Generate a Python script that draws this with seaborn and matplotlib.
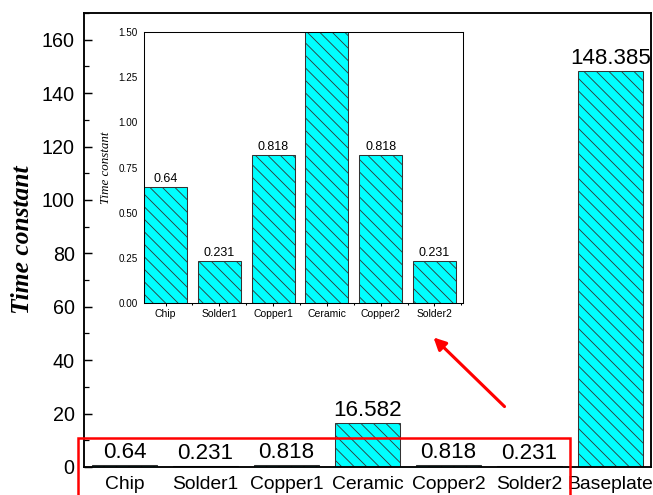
import matplotlib
matplotlib.use("Agg")
import matplotlib.pyplot as plt
from matplotlib.patches import Rectangle, FancyArrowPatch
from matplotlib.ticker import MultipleLocator, FixedLocator
import seaborn as sns

# Thermal time constants per layer of the module stack
layers = ["Chip", "Solder1", "Copper1", "Ceramic", "Copper2", "Solder2", "Baseplate"]
time_constants = [0.64, 0.231, 0.818, 16.582, 0.818, 0.231, 148.385]

# Zoomed view without the baseplate
inset_layers = ["Chip", "Solder1", "Copper1", "Ceramic", "Copper2", "Solder2"]
inset_values = [0.64, 0.231, 0.818, 16.582, 0.818, 0.231]

main_yticks = [0, 20, 40, 60, 80, 100, 120, 140, 160]
inset_yticks = [0.00, 0.25, 0.50, 0.75, 1.00, 1.25, 1.50]

sns.set_style("white")
plt.rcParams["font.family"] = ["Liberation Sans", "DejaVu Sans"]
plt.rcParams["hatch.linewidth"] = 0.8
for key in ("text.color", "axes.labelcolor", "xtick.color", "ytick.color"):
    plt.rcParams[key] = "black"

DPI = 75
W, H = 653, 495
fig = plt.figure(figsize=(W / DPI, H / DPI), dpi=DPI)

bar_style = dict(color="#00FFFF", saturation=1, width=0.8,
                 edgecolor="#333333", linewidth=1.0, hatch="\\\\")

# ---------- main axes ----------
ax = fig.add_axes([84 / W, 1 - 467 / H, 567 / W, 454 / H])
sns.barplot(x=layers, y=time_constants, ax=ax, **bar_style)
ax.set_xlim(-0.5, 6.5)
ax.set_ylim(0, 170)
ax.yaxis.set_major_locator(FixedLocator(main_yticks))
ax.yaxis.set_minor_locator(MultipleLocator(10))
ax.tick_params(axis="y", which="major", direction="in", length=8, width=1.4,
               labelsize=19, pad=9, left=True)
ax.tick_params(axis="y", which="minor", direction="in", length=5, width=1.2, left=True)
ax.tick_params(axis="x", length=0, labelsize=18.5, pad=9)
for s in ax.spines.values():
    s.set_linewidth(1.8)
    s.set_color("black")
ax.set_xlabel("")
ax.set_ylabel("Time constant", family=["Liberation Serif", "DejaVu Serif"],
              style="italic", fontweight="bold", fontsize=24.5)
ax.yaxis.set_label_coords(-0.088, 0.5)
ax.bar_label(ax.containers[0], labels=[f"{v:g}" for v in time_constants],
             fontsize=21.5, padding=2)

# ---------- inset axes ----------
ins = fig.add_axes([144 / W, 1 - 303 / H, 319 / W, 271 / H])
sns.barplot(x=inset_layers, y=inset_values, ax=ins, **bar_style)
ins.set_xlim(-0.4, 5.53)
ins.set_ylim(0, 1.5)
ins.yaxis.set_major_locator(FixedLocator(inset_yticks))
ins.set_yticklabels([f"{t:.2f}" for t in inset_yticks])
ins.xaxis.set_minor_locator(FixedLocator([0.5, 1.5, 2.5, 3.5, 4.5, 5.5]))
ins.tick_params(axis="y", length=0, labelsize=9.5, pad=6, left=False)
ins.tick_params(axis="x", which="major", direction="out", length=3.2, width=1,
                labelsize=10, pad=3, bottom=True)
ins.tick_params(axis="x", which="minor", direction="out", length=1.8, width=1, bottom=True)
for s in ins.spines.values():
    s.set_linewidth(1.0)
    s.set_color("black")
ins.set_xlabel("")
ins.set_ylabel("Time constant", family=["Liberation Serif", "DejaVu Serif"],
               style="italic", fontsize=12.5)
ins.yaxis.set_label_coords(-0.1, 0.5)
ins.bar_label(ins.containers[0],
              labels=[f"{v:g}" if v <= 1.5 else "" for v in inset_values],
              fontsize=12, padding=2)

# ---------- highlight box and pointer ----------
fig.patches.append(Rectangle((78 / W, -0.1), (570 - 78) / W, 0.1 + 1 - 438 / H,
                             transform=fig.transFigure, fill=False,
                             edgecolor="red", linewidth=2.4, clip_on=False, zorder=10))
fig.add_artist(FancyArrowPatch(
    (506 / W, 1 - 408 / H), (432 / W, 1 - 336 / H),
    transform=fig.transFigure, arrowstyle="-|>", mutation_scale=24,
    color="red", linewidth=3, zorder=10))

fig.savefig("out.png", dpi=DPI)
